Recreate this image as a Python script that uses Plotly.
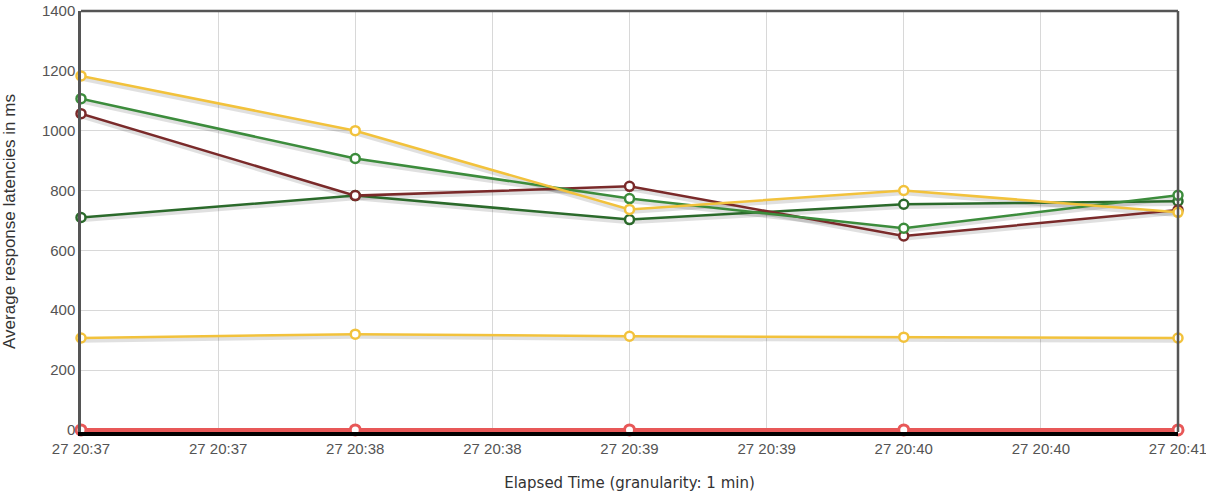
import plotly.graph_objects as go

times = ["2023-01-27 20:37:00", "2023-01-27 20:38:00", "2023-01-27 20:39:00",
         "2023-01-27 20:40:00", "2023-01-27 20:41:00"]

x_tick_vals = ["2023-01-27 20:37:00", "2023-01-27 20:37:30", "2023-01-27 20:38:00",
               "2023-01-27 20:38:30", "2023-01-27 20:39:00", "2023-01-27 20:39:30",
               "2023-01-27 20:40:00", "2023-01-27 20:40:30", "2023-01-27 20:41:00"]
x_tick_text = ["27 20:37", "27 20:37", "27 20:38", "27 20:38", "27 20:39",
               "27 20:39", "27 20:40", "27 20:40", "27 20:41"]

yellow_high = [1183, 1000, 737, 800, 727]
green = [1107, 907, 773, 674, 784]
maroon = [1057, 783, 814, 648, 735]
dark_green = [710, 783, 703, 754, 764]
yellow_low = [307, 320, 313, 310, 307]
black_zero = [0, 0, 0, 0, 0]
red_zero = [0, 0, 0, 0, 0]

y_ticks = [0, 200, 400, 600, 800, 1000, 1200, 1400]

series = [
    ("black", black_zero, "#000000", 3),
    ("yellow_low", yellow_low, "#f2c23c", 2.5),
    ("dark_green", dark_green, "#2b6a2b", 2.5),
    ("maroon", maroon, "#7a2a2a", 2.5),
    ("green", green, "#3c8c3c", 2.5),
    ("yellow_high", yellow_high, "#f2c23c", 2.5),
    ("red", red_zero, "#e85858", 4),
]

fig = go.Figure()
# shadows
for name, vals, col, w in series:
    if name in ("black", "red"):
        continue
    fig.add_trace(go.Scatter(x=times, y=[v - 9 for v in vals], mode="lines",
                             line=dict(color="rgba(0,0,0,0.12)", width=4),
                             hoverinfo="skip", showlegend=False))
for name, vals, col, w in series:
    if name == "black":
        fig.add_trace(go.Scatter(x=times, y=vals, mode="lines", name=name,
                                 line=dict(color=col, width=w), showlegend=False))
        continue
    big = name == "red"
    fig.add_trace(go.Scatter(
        x=times, y=vals, mode="lines+markers", name=name,
        line=dict(color=col, width=w),
        marker=dict(size=10 if big else 9, color="white",
                    line=dict(color=col, width=3 if big else 2.5)),
        cliponaxis=False, showlegend=False))

fig.update_layout(
    width=1206, height=500,
    margin=dict(l=81, r=28, t=11, b=68, autoexpand=False),
    paper_bgcolor="white", plot_bgcolor="white",
    font=dict(family="Liberation Sans, Arial, sans-serif", size=15, color="#545454"),
    showlegend=False,
)
fig.update_xaxes(
    type="date", range=[times[0], times[-1]],
    tickvals=x_tick_vals, ticktext=x_tick_text, ticklabeloverflow="allow",
    showgrid=True, gridcolor="#d8d8d8", gridwidth=1,
    showline=True, linecolor="#000000", linewidth=4, mirror=False,
    ticks="", zeroline=False, automargin=False,
    title=dict(text="Elapsed Time (granularity: 1 min)",
               font=dict(family="DejaVu Sans, Verdana, sans-serif", size=15, color="#333"),
               standoff=22),
)
fig.update_yaxes(
    range=[-7, 1400], tickvals=y_ticks, ticklabeloverflow="allow",
    showgrid=True, gridcolor="#d8d8d8", gridwidth=1,
    showline=True, linecolor="#555555", linewidth=2.5, mirror=False,
    ticks="", zeroline=False, automargin=False,
    title=dict(text="Average response latencies in ms", font=dict(size=17, color="#333"), standoff=22),
)
# top and right frame
fig.add_shape(type="line", xref="paper", yref="paper", x0=0, x1=1, y0=1, y1=1,
              line=dict(color="#555555", width=2.5))
fig.add_shape(type="line", xref="paper", yref="paper", x0=1, x1=1, y0=0, y1=1,
              line=dict(color="#555555", width=2.5))

fig.write_html("out.html", config={"displayModeBar": False},
               post_script="document.body.style.margin='0';")
